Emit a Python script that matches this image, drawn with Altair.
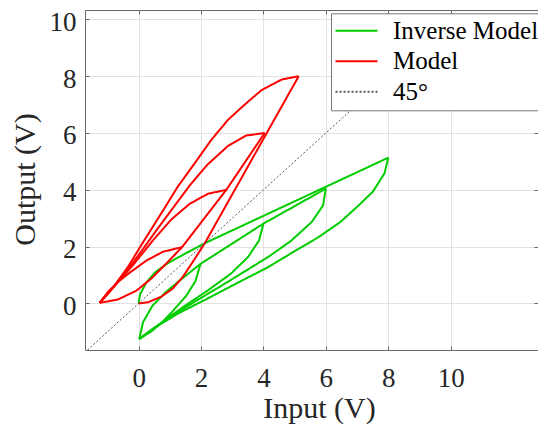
import altair as alt
import pandas as pd

# ---------------- data ----------------
series_names = ["Inverse Model", "Model", "45°"]
series_colors = ["#00cc00", "#ff0000", "#555555"]

# Model (red): input x, output y
m_up0_x = [0, 0.30, 0.73, 1.10, 1.42, 1.74, 2.12, 5.13]
m_up0_y = [0, 0.04, 0.24, 0.53, 0.94, 1.47, 2.12, 8.0]
m_dn8_x = [5.13, 4.58, 3.94, 3.46, 2.87, 2.33, 1.80, 1.26, 0.73, 0.19, -0.34, -0.88, -1.25]
m_dn8_y = [8.0, 7.88, 7.51, 7.06, 6.47, 5.76, 4.94, 4.12, 3.18, 2.24, 1.29, 0.47, 0.02]
m_up_x = [-1.25, -0.66, -0.07, 0.41, 0.89, 1.39, 2.81, 4.04]
m_up_y = [0.02, 0.14, 0.45, 0.88, 1.41, 1.98, 4.0, 6.0]
m_dn6_x = [4.04, 3.45, 2.87, 2.20, 1.67, 1.16, 0.62, 0.09, -0.45, -0.93, -1.25]
m_dn6_y = [6.0, 5.91, 5.55, 4.88, 4.2, 3.45, 2.65, 1.84, 1.05, 0.42, 0.02]
m_dn4_x = [2.81, 2.22, 1.64, 1.05, 0.46, -0.13, -0.66, -0.98, -1.25]
m_dn4_y = [4.0, 3.86, 3.51, 2.96, 2.22, 1.42, 0.75, 0.36, 0.02]
m_dn2_x = [1.39, 0.78, 0.25, -0.24, -0.66, -0.98, -1.25]
m_dn2_y = [1.98, 1.82, 1.51, 1.12, 0.76, 0.41, 0.02]

# Inverse Model (green): input x, output y
i_up0_x = [0, 0.04, 0.24, 0.53, 0.94, 1.47, 2.12, 8.0]
i_up0_y = [0, 0.30, 0.73, 1.10, 1.42, 1.74, 2.12, 5.13]
i_dn8_x = [8.0, 7.88, 7.51, 7.06, 6.47, 5.76, 4.94, 4.12, 3.18, 2.24, 1.29, 0.47, 0.02]
i_dn8_y = [5.13, 4.58, 3.94, 3.46, 2.87, 2.33, 1.80, 1.26, 0.73, 0.19, -0.34, -0.88, -1.25]
i_up_x = [0.02, 0.14, 0.45, 0.88, 1.41, 1.98, 4.0, 6.0]
i_up_y = [-1.25, -0.66, -0.07, 0.41, 0.89, 1.39, 2.81, 4.04]
i_dn6_x = [6.0, 5.91, 5.55, 4.88, 4.2, 3.45, 2.65, 1.84, 1.05, 0.42, 0.02]
i_dn6_y = [4.04, 3.45, 2.87, 2.20, 1.67, 1.16, 0.62, 0.09, -0.45, -0.93, -1.25]
i_dn4_x = [4.0, 3.86, 3.51, 2.96, 2.22, 1.42, 0.75, 0.36, 0.02]
i_dn4_y = [2.81, 2.22, 1.64, 1.05, 0.46, -0.13, -0.66, -0.98, -1.25]
i_dn2_x = [1.98, 1.82, 1.51, 1.12, 0.76, 0.41, 0.02]
i_dn2_y = [1.39, 0.78, 0.25, -0.24, -0.66, -0.98, -1.25]

# 45 degree reference line
ref_x = [-1.64, 10.0]
ref_y = [-1.64, 10.0]

x_ticks = [0, 2, 4, 6, 8, 10]
y_ticks = [0, 2, 4, 6, 8, 10]
x_domain = [-1.72, 12.80]
y_domain = [-1.64, 10.33]

# ---------------- table ----------------
rows = []


def add(series, seg, xs, ys, sw):
    for k, (a, b) in enumerate(zip(xs, ys)):
        rows.append({"series": series, "seg": seg, "i": k, "x": a, "y": b, "sw": sw})


add("Inverse Model", "i1", i_up0_x, i_up0_y, 2)
add("Inverse Model", "i2", i_dn8_x, i_dn8_y, 2)
add("Inverse Model", "i3", i_up_x, i_up_y, 2)
add("Inverse Model", "i4", i_dn6_x, i_dn6_y, 2)
add("Inverse Model", "i5", i_dn4_x, i_dn4_y, 2)
add("Inverse Model", "i6", i_dn2_x, i_dn2_y, 2)
add("Model", "m1", m_up0_x, m_up0_y, 2)
add("Model", "m2", m_dn8_x, m_dn8_y, 2)
add("Model", "m3", m_up_x, m_up_y, 2)
add("Model", "m4", m_dn6_x, m_dn6_y, 2)
add("Model", "m5", m_dn4_x, m_dn4_y, 2)
add("Model", "m6", m_dn2_x, m_dn2_y, 2)
add("45°", "r", ref_x, ref_y, 1)
df = pd.DataFrame(rows)

FONT = "Liberation Serif"
AX = "#666666"
TXT = "#262626"

leg = alt.Legend(
    title=None, orient="none", legendX=246, legendY=3.3,
    symbolType="M-2,0H2", symbolSize=441, symbolStrokeWidth=2,
    labelFont=FONT, labelFontSize=25, labelColor="#000000",
    padding=5, rowPadding=4.5, symbolOffset=8, labelOffset=24,
    fillColor="white", strokeColor="#777777", labelLimit=400,
)

xs = alt.Scale(domain=x_domain, nice=False, zero=False)
ys = alt.Scale(domain=y_domain, nice=False, zero=False)

lines = alt.Chart(df).mark_line(clip=True).encode(
    x=alt.X("x:Q", scale=xs, axis=alt.Axis(
        values=x_ticks, grid=True, gridColor="#e2e2e2", domain=False,
        tickSize=4, offset=-4, tickColor=AX, labelFont=FONT, labelFontSize=27,
        labelColor=TXT, labelPadding=15, title="Input (V)", titleFont=FONT,
        titleFontSize=30, titleFontWeight="normal", titleColor=TXT,
        titleX=234, titleY=71, titleBaseline="alphabetic")),
    y=alt.Y("y:Q", scale=ys, axis=alt.Axis(
        values=y_ticks, grid=True, gridColor="#e2e2e2", domain=False,
        tickSize=4, offset=-4, tickColor=AX, labelFont=FONT, labelFontSize=27,
        labelColor=TXT, labelPadding=9, labelOffset=3, title="Output (V)",
        titleFont=FONT, titleFontSize=30, titleFontWeight="normal",
        titleColor=TXT, titleX=-54.5, titleY=169, titleBaseline="alphabetic")),
    color=alt.Color("series:N", scale=alt.Scale(domain=series_names, range=series_colors), legend=leg),
    strokeDash=alt.StrokeDash("series:N", scale=alt.Scale(domain=series_names, range=[[1, 0], [1, 0], [2, 2]]), legend=leg),
    strokeWidth=alt.StrokeWidth("sw:Q", scale=None),
    detail="seg:N",
    order="i:Q",
)

tick_df = pd.DataFrame({"x": [0], "y": [0]})
inner = alt.Chart(tick_df).mark_point(opacity=0).encode(
    x=alt.X("x:Q", scale=xs, axis=alt.Axis(
        orient="top", values=x_ticks, labels=False, grid=False, domain=False,
        tickSize=4, offset=-4, tickColor=AX, title=None)),
    y=alt.Y("y:Q", scale=ys, axis=alt.Axis(
        orient="right", values=y_ticks, labels=False, grid=False, domain=False,
        tickSize=4, offset=-4, tickColor=AX, title=None)),
)

chart = alt.layer(lines, inner).resolve_axis(x="independent", y="independent").properties(
    width=453, height=340,
    padding={"left": 77, "top": 2, "right": 0, "bottom": 74},
    autosize=alt.AutoSizeParams(type="none"),
).configure(font=FONT).configure_axis(labelFont=FONT, titleFont=FONT).configure_legend(
    labelFont=FONT).configure_view(stroke=AX, strokeWidth=1)

chart.save("out.html", embed_options={"renderer": "svg", "actions": False})
